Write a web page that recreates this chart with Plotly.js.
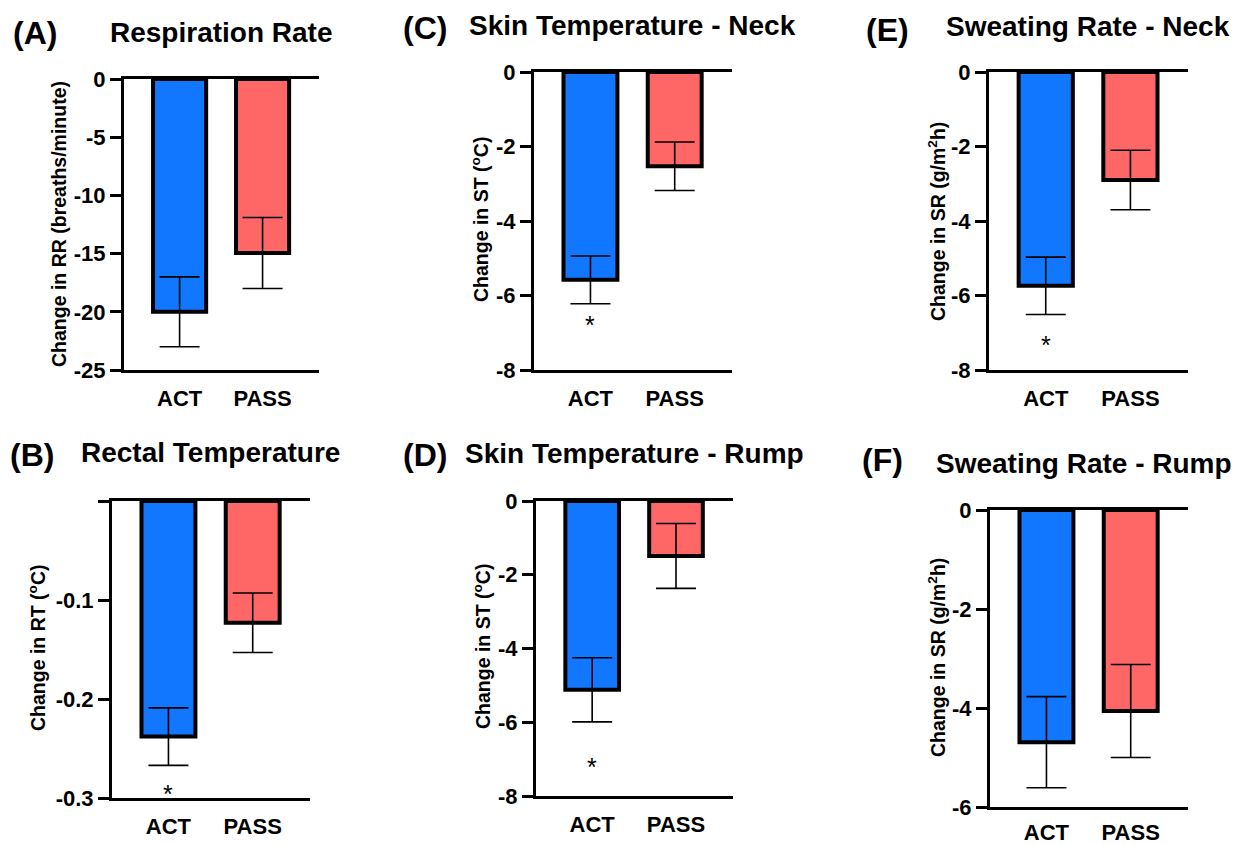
<!DOCTYPE html>
<html>
<head>
<meta charset="utf-8">
<script src="https://cdn.plot.ly/plotly-3.0.1.min.js"></script>
<style>html,body{margin:0;padding:0;background:#fff;}#chart{width:1243px;height:844px;}</style>
</head>
<body>
<div id="chart"></div>
<script>
// ---- data ----
const groups = ['ACT', 'PASS'];
const rrMean = [-20.0, -14.95];      // Respiration rate (breaths/minute)
const rrSE = [3.0, 3.05];
const rtMean = [-0.238, -0.123];    // Rectal temperature (°C)
const rtSE = [0.029, 0.030];
const stNeckMean = [-5.58, -2.53];  // Skin temperature - neck (°C)
const stNeckSE = [0.64, 0.65];
const stRumpMean = [-5.12, -1.49];  // Skin temperature - rump (°C)
const stRumpSE = [0.87, 0.88];
const srNeckMean = [-5.74, -2.9];   // Sweating rate - neck (g/m2h)
const srNeckSE = [0.77, 0.8];
const srRumpMean = [-4.69, -4.06];  // Sweating rate - rump (g/m2h)
const srRumpSE = [0.92, 0.94];

const panelLetters = ['(A)', '(B)', '(C)', '(D)', '(E)', '(F)'];
const panelTitles = ['Respiration Rate', 'Rectal Temperature', 'Skin Temperature - Neck',
                     'Skin Temperature - Rump', 'Sweating Rate - Neck', 'Sweating Rate - Rump'];
const yTitles = ['Change in RR (breaths/minute)', 'Change in RT (<sup>o</sup>C)',
                 'Change in ST (<sup>o</sup>C)', 'Change in ST (<sup>o</sup>C)',
                 'Change in SR (g/m<sup>2</sup>h)', 'Change in SR (g/m<sup>2</sup>h)'];
const yTickVals = [[0, -5, -10, -15, -20, -25], [0, -0.1, -0.2, -0.3], [0, -2, -4, -6, -8],
                   [0, -2, -4, -6, -8], [0, -2, -4, -6, -8], [0, -2, -4, -6]];
const yTickText = [['0', '-5', '-10', '-15', '-20', '-25'], [' ', '-0.1', '-0.2', '-0.3'],
                   ['0', '-2', '-4', '-6', '-8'], ['0', '-2', '-4', '-6', '-8'],
                   ['0', '-2', '-4', '-6', '-8'], ['0', '-2', '-4', '-6']];
const yRanges = [[-25, 0], [-0.3, 0], [-8, 0], [-8, 0], [-8, 0], [-6, 0]];
const means = [rrMean, rtMean, stNeckMean, stRumpMean, srNeckMean, srRumpMean];
const ses = [rrSE, rtSE, stNeckSE, stRumpSE, srNeckSE, srRumpSE];
// significance markers (* under ACT) : y value, null = none
const sigY = [null, -0.291, -6.67, -7.07, -7.2, null];

// ---- layout geometry (pixels) ----
const W = 1243, H = 844;
const boxes = [ // [left, right, top, bottom]
  [124, 319, 79, 370],
  [112, 310, 501, 798],
  [534, 732, 72, 370],
  [536, 733, 501, 796],
  [989, 1188, 72, 370],
  [990, 1188, 510, 807]
];
const xLabelStandoff = [7, 7, 7, 7, 7, 4];
const letterPos = [[35, 33], [32, 455], [425, 28], [425, 455], [887, 30], [882, 460]];
const titlePos = [[221, 33], [210, 452], [632, 25], [634, 453], [1088, 27], [1084, 463]];
const yTitlePos = [[59, 224], [37, 648], [480, 220], [482, 647], [937, 221], [937, 657]];

const FONT = 'Liberation Sans, Arial, Helvetica, sans-serif';
const fx = p => p / W;
const fy = p => 1 - p / H;

const traces = [];
const layout = {
  width: W, height: H,
  margin: {l: 0, r: 0, t: 0, b: 0},
  paper_bgcolor: '#fff', plot_bgcolor: '#fff',
  showlegend: false,
  font: {family: FONT, color: '#000'},
  annotations: [],
  bargap: 0
};

for (let i = 0; i < 6; i++) {
  const sfx = i === 0 ? '' : String(i + 1);
  const b = boxes[i];
  traces.push({
    type: 'bar',
    x: groups,
    y: means[i],
    xaxis: 'x' + sfx,
    yaxis: 'y' + sfx,
    width: 0.64,
    marker: {color: ['#1177FF', '#FF6666'], line: {color: '#000', width: 4}},
    error_y: {type: 'data', array: ses[i], visible: true, color: '#000', thickness: 1.6, width: 20},
    hoverinfo: 'skip'
  });
  layout['xaxis' + sfx] = {
    domain: [fx(b[0]), fx(b[1])],
    anchor: 'y' + sfx,
    range: [-0.67, 1.68],
    type: 'category',
    showline: true, linewidth: 3, linecolor: '#000', mirror: true,
    ticks: '', showgrid: false, zeroline: false,
    tickfont: {family: FONT, size: 22, weight: 'bold', color: '#000'},
    ticklabelstandoff: xLabelStandoff[i],
    fixedrange: true
  };
  layout['yaxis' + sfx] = {
    domain: [fy(b[3]), fy(b[2])],
    anchor: 'x' + sfx,
    range: yRanges[i],
    tickvals: yTickVals[i],
    ticktext: yTickText[i],
    showline: true, linewidth: 3, linecolor: '#000',
    ticks: 'outside', ticklen: 11, tickwidth: 3, tickcolor: '#000',
    showgrid: false, zeroline: false,
    tickfont: {family: FONT, size: 22, weight: 'bold', color: '#000'},
    fixedrange: true
  };
  layout.annotations.push({
    xref: 'paper', yref: 'paper', x: fx(letterPos[i][0]), y: fy(letterPos[i][1]),
    xanchor: 'center', yanchor: 'middle', showarrow: false,
    text: panelLetters[i], font: {family: FONT, size: 32, weight: 'bold', color: '#000'}
  });
  layout.annotations.push({
    xref: 'paper', yref: 'paper', x: fx(titlePos[i][0]), y: fy(titlePos[i][1]),
    xanchor: 'center', yanchor: 'middle', showarrow: false,
    text: panelTitles[i], font: {family: FONT, size: 28, weight: 'bold', color: '#000'}
  });
  layout.annotations.push({
    xref: 'paper', yref: 'paper', x: fx(yTitlePos[i][0]), y: fy(yTitlePos[i][1]),
    xanchor: 'center', yanchor: 'middle', showarrow: false, textangle: -90,
    text: yTitles[i], font: {family: FONT, size: 19.5, weight: 'bold', color: '#000'}
  });
  if (sigY[i] !== null) {
    layout.annotations.push({
      xref: 'x' + sfx, yref: 'y' + sfx, x: groups[0], y: sigY[i],
      xanchor: 'center', yanchor: 'middle', showarrow: false, yshift: -5,
      text: '*', font: {family: FONT, size: 25, color: '#000'}
    });
  }
}

Plotly.newPlot('chart', traces, layout, {displayModeBar: false, staticPlot: true});
</script>
</body>
</html>
